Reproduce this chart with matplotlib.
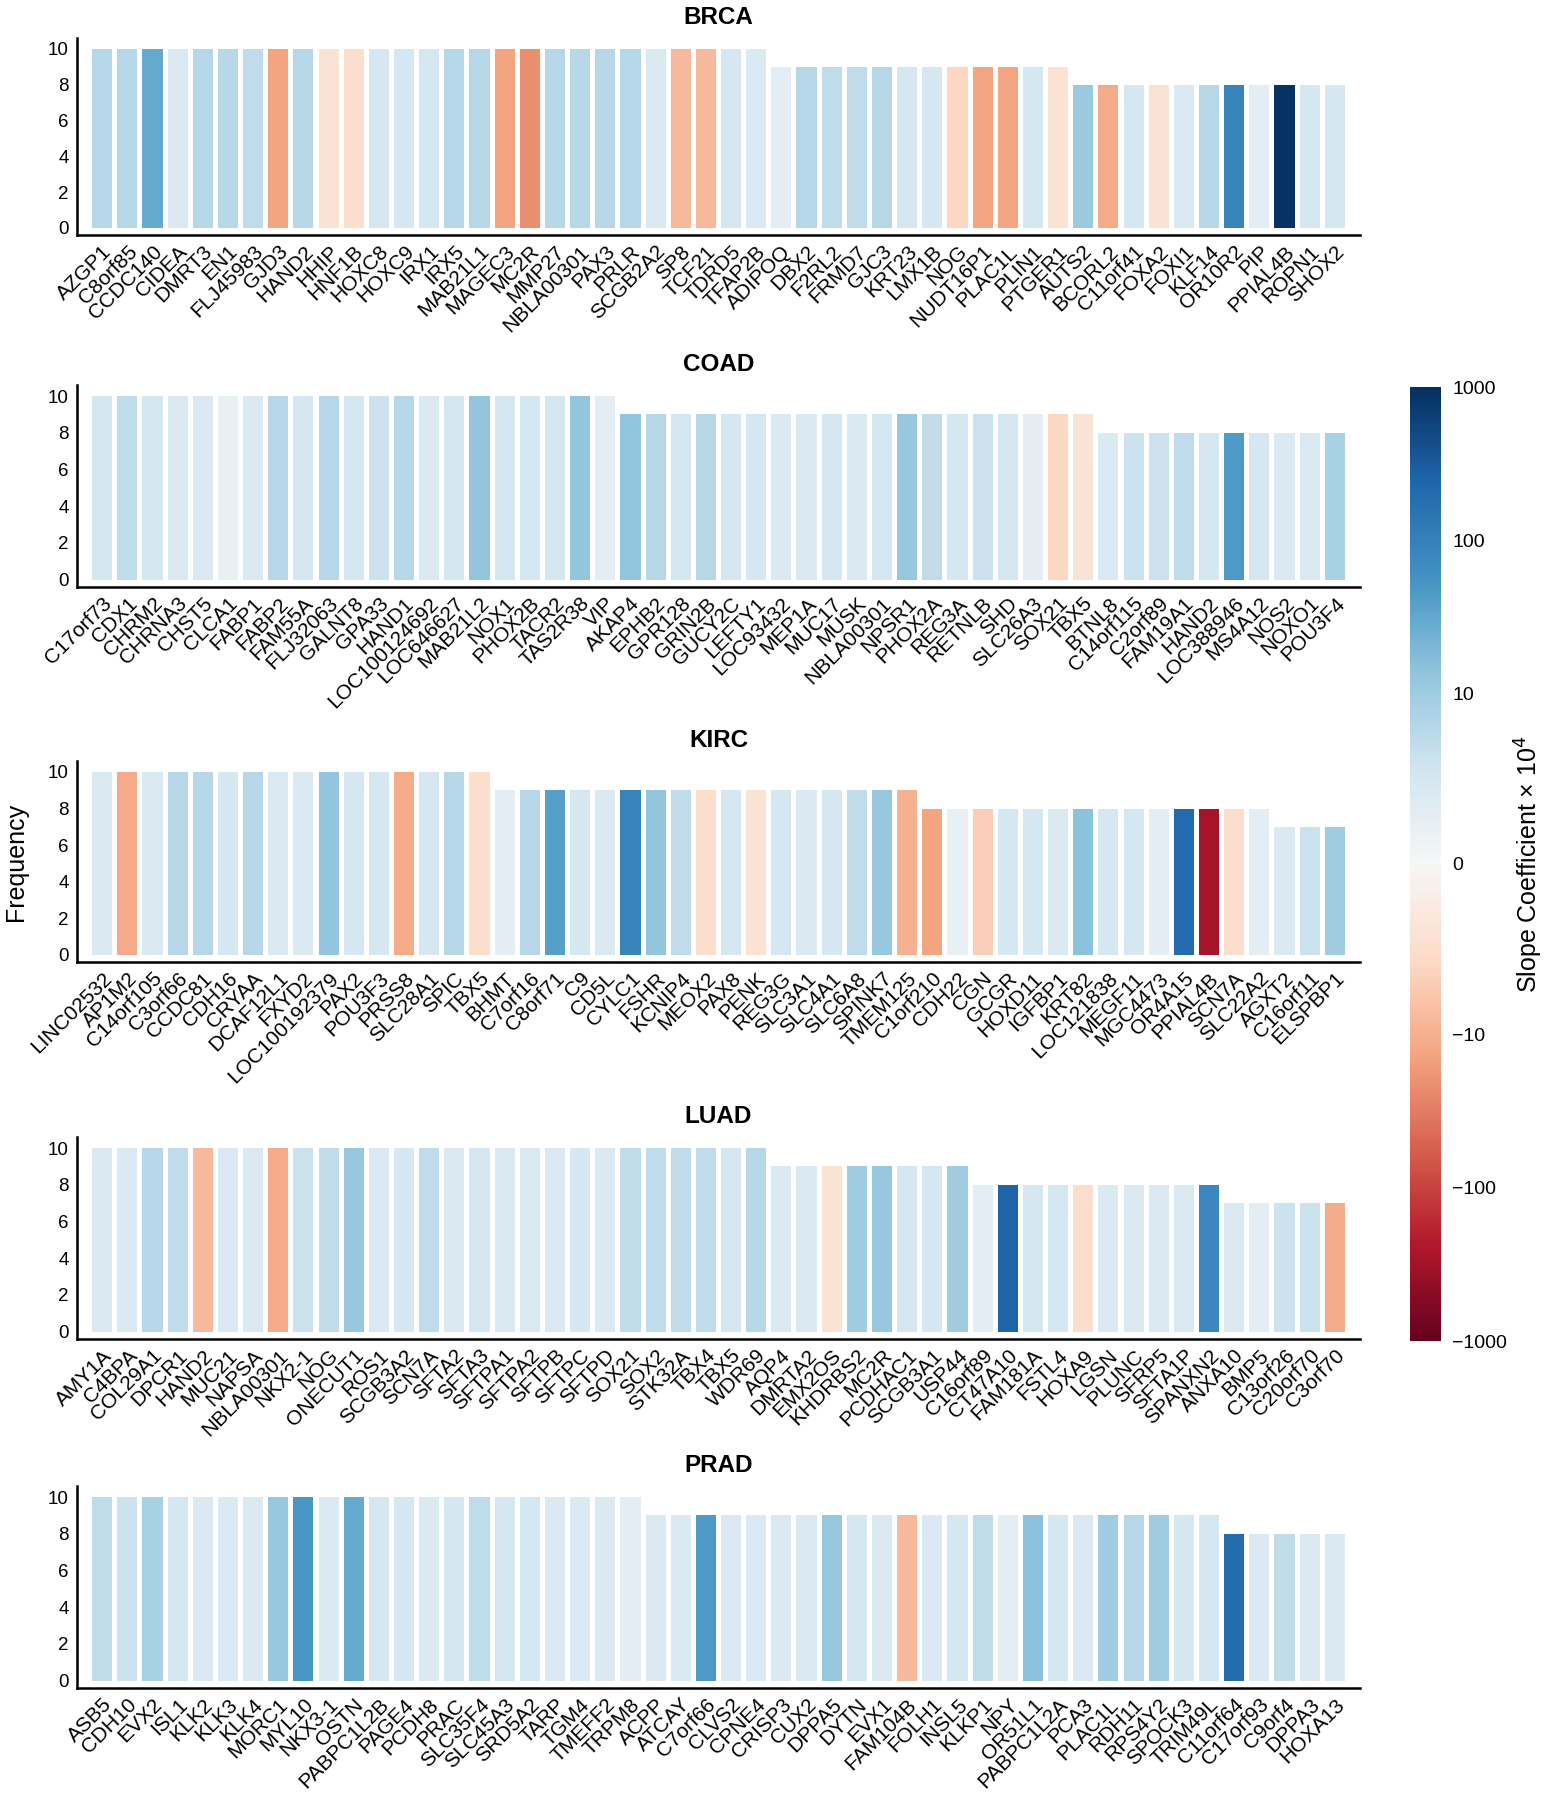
import numpy as np
import matplotlib
matplotlib.use("Agg")
from matplotlib import pyplot as plt
from matplotlib.colors import SymLogNorm
from matplotlib.cm import ScalarMappable

plt.rcParams['font.family'] = ['Liberation Sans', 'DejaVu Sans']

# ---- data -------------------------------------------------------------
brca_genes = ['AZGP1', 'C8orf85', 'CCDC140', 'CIDEA', 'DMRT3', 'EN1', 'FLJ45983', 'GJD3', 'HAND2', 'HHIP',
              'HNF1B', 'HOXC8', 'HOXC9', 'IRX1', 'IRX5', 'MAB21L1', 'MAGEC3', 'MC2R', 'MMP27', 'NBLA00301',
              'PAX3', 'PRLR', 'SCGB2A2', 'SP8', 'TCF21', 'TDRD5', 'TFAP2B', 'ADIPOQ', 'DBX2', 'F2RL2',
              'FRMD7', 'GJC3', 'KRT23', 'LMX1B', 'NOG', 'NUDT16P1', 'PLAC1L', 'PLIN1', 'PTGER1', 'AUTS2',
              'BCORL2', 'C11orf41', 'FOXA2', 'FOXI1', 'KLF14', 'OR10R2', 'PIP', 'PPIAL4B', 'ROPN1', 'SHOX2']
brca_freq = [10]*27 + [9]*12 + [8]*11
brca_slope = [8, 8, 30, 4, 8, 8, 7, -14, 8, -4,
              -5, 5, 5, 5, 8, 8, -14, -22, 8, 8,
              8, 8, 4, -9, -9, 5, 4, 3, 8, 7,
              7, 8, 5, 5, -6, -13, -13, 5, -4, 11,
              -12, 5, -4, 4, 8, 90, 3, 900, 5, 5]

coad_genes = ['C17orf73', 'CDX1', 'CHRM2', 'CHRNA3', 'CHST5', 'CLCA1', 'FABP1', 'FABP2', 'FAM55A', 'FLJ32063',
              'GALNT8', 'GPA33', 'HAND1', 'LOC100124692', 'LOC646627', 'MAB21L2', 'NOX1', 'PHOX2B', 'TACR2', 'TAS2R38',
              'VIP', 'AKAP4', 'EPHB2', 'GPR128', 'GRIN2B', 'GUCY2C', 'LEFTY1', 'LOC93432', 'MEP1A', 'MUC17',
              'MUSK', 'NBLA00301', 'NPSR1', 'PHOX2A', 'REG3A', 'RETNLB', 'SHD', 'SLC26A3', 'SOX21', 'TBX5',
              'BTNL8', 'C14orf115', 'C2orf89', 'FAM19A1', 'HAND2', 'LOC388946', 'MS4A12', 'NOS2', 'NOXO1', 'POU3F4']
coad_freq = [10]*21 + [9]*19 + [8]*10
coad_slope = [5, 7, 5, 4, 4, 2, 4, 8, 5, 8,
              5, 6, 8, 4, 5, 13, 5, 5, 5, 13,
              3, 13, 8, 5, 8, 5, 5, 4, 4, 5,
              4, 5, 12, 7, 5, 6, 5, 3, -6, -4,
              4, 6, 6, 7, 5, 45, 5, 4, 4, 9]

kirc_genes = ['LINC02532', 'AP1M2', 'C14orf105', 'C3orf66', 'CCDC81', 'CDH16', 'CRYAA', 'DCAF12L1', 'FXYD2', 'LOC100192379',
              'PAX2', 'POU3F3', 'PRSS8', 'SLC28A1', 'SPIC', 'TBX5', 'BHMT', 'C7orf16', 'C8orf71', 'C9',
              'CD5L', 'CYLC1', 'FSHR', 'KCNIP4', 'MEOX2', 'PAX8', 'PENK', 'REG3G', 'SLC3A1', 'SLC4A1',
              'SLC6A8', 'SPINK7', 'TMEM125', 'C1orf210', 'CDH22', 'CGN', 'GCGR', 'HOXD11', 'IGFBP1', 'KRT82',
              'LOC121838', 'MEGF11', 'MGC4473', 'OR4A15', 'PPIAL4B', 'SCN7A', 'SLC22A2', 'AGXT2', 'C16orf11', 'ELSPBP1']
kirc_freq = [10]*16 + [9]*17 + [8]*14 + [7]*3
kirc_slope = [4, -12, 4, 8, 8, 5, 8, 4, 4, 13,
              5, 5, -12, 5, 8, -5, 3, 8, 40, 5,
              4, 90, 13, 7, -5, 5, -4, 5, 4, 5,
              7, 12, -10, -14, 2, -7, 5, 5, 4, 15,
              5, 5, 3, 200, -300, -5, 3, 4, 6, 10]

luad_genes = ['AMY1A', 'C4BPA', 'COL29A1', 'DPCR1', 'HAND2', 'MUC21', 'NAPSA', 'NBLA00301', 'NKX2-1', 'NOG',
              'ONECUT1', 'ROS1', 'SCGB3A2', 'SCN7A', 'SFTA2', 'SFTA3', 'SFTPA1', 'SFTPA2', 'SFTPB', 'SFTPC',
              'SFTPD', 'SOX21', 'SOX2', 'STK32A', 'TBX4', 'TBX5', 'WDR69', 'AQP4', 'DMRTA2', 'EMX2OS',
              'KHDRBS2', 'MC2R', 'PCDHAC1', 'SCGB3A1', 'USP44', 'C16orf89', 'CT47A10', 'FAM181A', 'FSTL4', 'HOXA9',
              'LGSN', 'PLUNC', 'SFRP5', 'SFTA1P', 'SPANXN2', 'ANXA10', 'BMP5', 'C13orf26', 'C20orf70', 'C3orf70']
luad_freq = [10]*27 + [9]*8 + [8]*10 + [7]*5
luad_slope = [4, 4, 8, 7, -9, 4, 4, -12, 6, 7,
              12, 4, 5, 7, 4, 5, 4, 4, 4, 5,
              4, 7, 7, 7, 7, 5, 8, 4, 4, -4,
              10, 12, 5, 5, 10, 3, 250, 5, 5, -5,
              4, 4, 4, 4, 80, 4, 3, 6, 6, -11]

prad_genes = ['ASB5', 'CDH10', 'EVX2', 'ISL1', 'KLK2', 'KLK3', 'KLK4', 'MORC1', 'MYL10', 'NKX3-1',
              'OSTN', 'PABPC1L2B', 'PAGE4', 'PCDH8', 'PRAC', 'SLC35F4', 'SLC45A3', 'SRD5A2', 'TARP', 'TGM4',
              'TMEFF2', 'TRPM8', 'ACPP', 'ATCAY', 'C7orf66', 'CLVS2', 'CPNE4', 'CRISP3', 'CUX2', 'DPPA5',
              'DYTN', 'EVX1', 'FAM104B', 'FOLH1', 'INSL5', 'KLKP1', 'NPY', 'OR51L1', 'PABPC1L2A', 'PCA3',
              'PLAC1L', 'RDH11', 'RPS4Y2', 'SPOCK3', 'TRIM49L', 'C11orf64', 'C17orf93', 'C9orf4', 'DPPA3', 'HOXA13']
prad_freq = [10]*22 + [9]*23 + [8]*5
prad_slope = [7, 6, 9, 5, 4, 4, 4, 12, 50, 4,
              30, 5, 5, 4, 5, 7, 5, 5, 4, 4,
              4, 3, 4, 4, 45, 4, 4, 4, 4, 12,
              5, 4, -9, 4, 5, 7, 3, 15, 5, 4,
              10, 8, 10, 5, 5, 200, 4, 7, 4, 4]

panels = [('BRCA', brca_genes, brca_freq, brca_slope),
          ('COAD', coad_genes, coad_freq, coad_slope),
          ('KIRC', kirc_genes, kirc_freq, kirc_slope),
          ('LUAD', luad_genes, luad_freq, luad_slope),
          ('PRAD', prad_genes, prad_freq, prad_slope)]

# ---- plot -------------------------------------------------------------
W, H = 1549, 1800
fig = plt.figure(figsize=(W/100, H/100), dpi=100)
norm = SymLogNorm(linthresh=10, linscale=1, vmin=-1000, vmax=1000, base=10)
cmap = plt.cm.RdBu

# top / bottom of each axes in pixels
ax_px = [(38, 235), (385, 587), (761, 962), (1137, 1339), (1486, 1688)]
left, right = 77, 1360

for (name, genes, freq, slope), (top, bot) in zip(panels, ax_px):
    ax = fig.add_axes([left/W, 1-bot/H, (right-left)/W, (bot-top)/H])
    x = np.arange(len(genes))
    ax.bar(x, freq, width=0.8, color=cmap(norm(np.array(slope, dtype=float))))
    ax.set_xlim(-1, len(genes))
    ax.set_ylim(-0.4, 10.6)
    ax.set_yticks([0, 2, 4, 6, 8, 10])
    ax.set_xticks(x)
    ax.set_xticklabels(genes, rotation=45, ha='right', rotation_mode='anchor', fontsize=15)
    ax.tick_params(axis='both', length=0)
    ax.tick_params(axis='y', labelsize=13.5, pad=6)
    ax.tick_params(axis='x', pad=5)
    for s in ['top', 'right']:
        ax.spines[s].set_visible(False)
    for s in ['left', 'bottom']:
        ax.spines[s].set_linewidth(1.8)
    ax.set_title(name, fontsize=17.5, fontweight='bold', pad=10)
    if name == 'KIRC':
        ax.set_ylabel('Frequency', fontsize=18, labelpad=14)

cax = fig.add_axes([1410/W, 1-1341/H, 31/W, (1341-387)/H])
sm = ScalarMappable(norm=norm, cmap=cmap)
cb = fig.colorbar(sm, cax=cax, ticks=[-1000, -100, -10, 0, 10, 100, 1000])
cb.ax.set_yticklabels(['\u22121000', '\u2212100', '\u221210', '0', '10', '100', '1000'])
cb.outline.set_visible(False)
cb.ax.tick_params(length=0, labelsize=14, pad=8)
cb.set_label('Slope Coefficient \u00d7 10$^4$', fontsize=18, labelpad=4)

fig.savefig('out.png', dpi=100)
